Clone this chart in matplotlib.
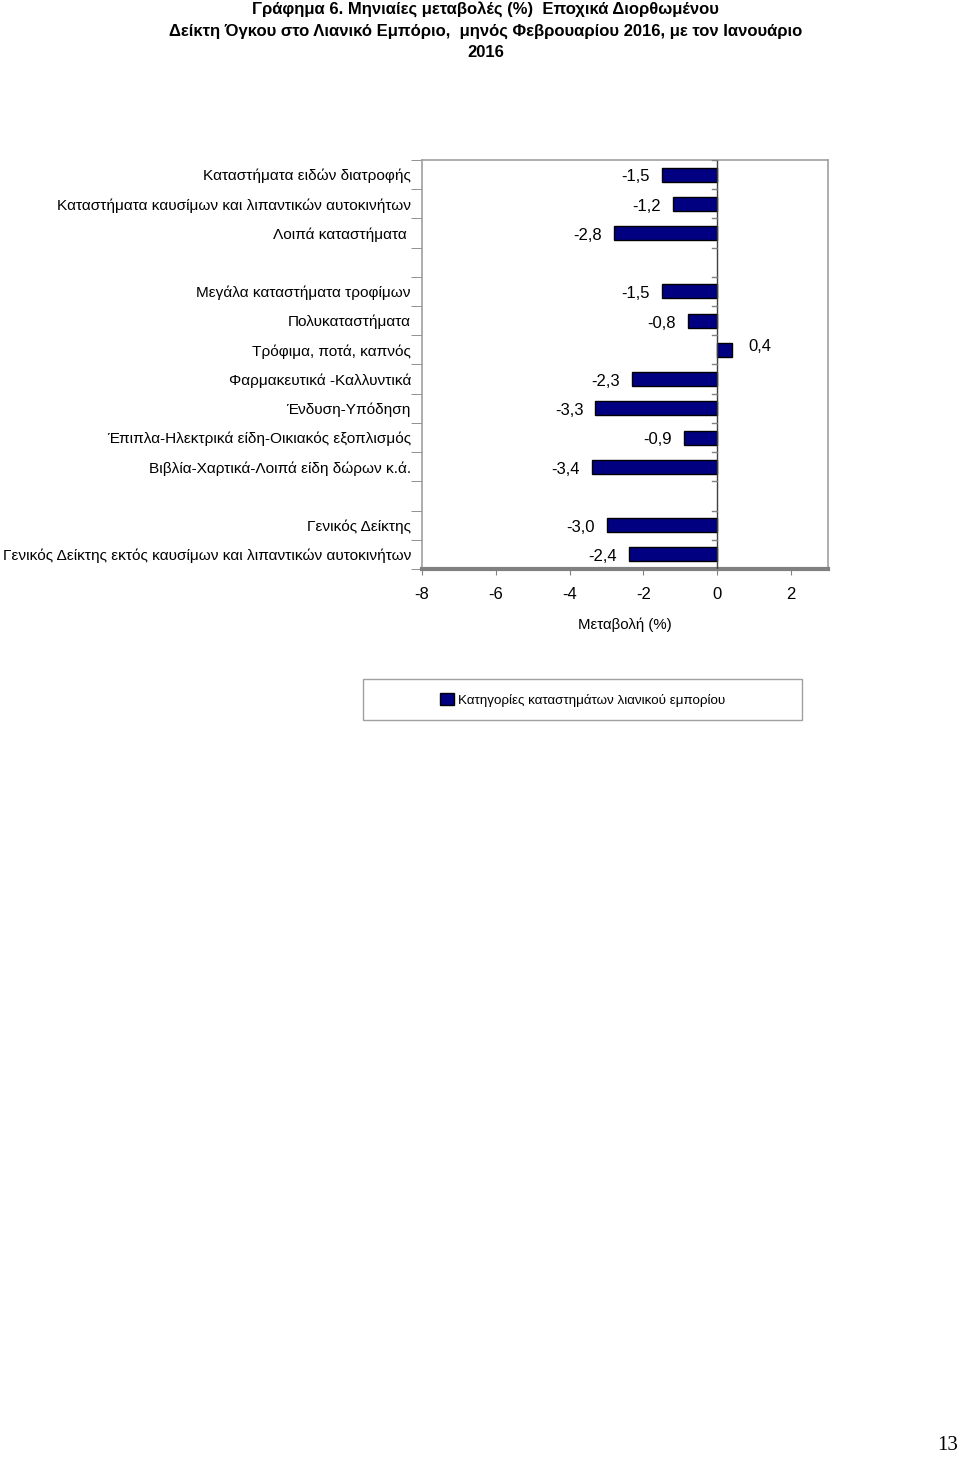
import matplotlib
matplotlib.use('Agg')
import matplotlib.pyplot as plt
from matplotlib.patches import Patch, Rectangle

plt.rcParams['font.family'] = ['Liberation Sans', 'DejaVu Sans']

# three groups of categories, drawn with an empty row between them
group1 = ['Καταστήματα ειδών διατροφής',
          'Καταστήματα καυσίμων και λιπαντικών αυτοκινήτων',
          'Λοιπά καταστήματα ']
values1 = [-1.5, -1.2, -2.8]

group2 = ['Μεγάλα καταστήματα τροφίμων',
          'Πολυκαταστήματα',
          'Τρόφιμα, ποτά, καπνός',
          'Φαρμακευτικά -Καλλυντικά',
          'Ένδυση-Υπόδηση',
          'Έπιπλα-Ηλεκτρικά είδη-Οικιακός εξοπλισμός',
          'Βιβλία-Χαρτικά-Λοιπά είδη δώρων κ.ά.']
values2 = [-1.5, -0.8, 0.4, -2.3, -3.3, -0.9, -3.4]

group3 = ['Γενικός Δείκτης',
          'Γενικός Δείκτης εκτός καυσίμων και λιπαντικών αυτοκινήτων']
values3 = [-3.0, -2.4]

xticks = [-8, -6, -4, -2, 0, 2]

labels = []
values = []
ypos = []
row = 0
for g, v in [(group1, values1), (group2, values2), (group3, values3)]:
    for lab, val in zip(g, v):
        labels.append(lab)
        values.append(val)
        ypos.append(row)
        row += 1
    row += 1  # empty row between groups
nrows = row - 1

fig = plt.figure(figsize=(9.6, 14.58), dpi=100)
ax = fig.add_axes([0.4396, 0.6097, 0.4229, 0.2806])

navy = '#000080'
ax.barh(ypos, values, height=0.48, color=navy, edgecolor='black', linewidth=1.0, zorder=3)

for y, v in zip(ypos, values):
    txt = ('%.1f' % v).replace('.', ',')
    if v < 0:
        ax.text(v - 0.33, y + 0.08, txt, ha='right', va='center', fontsize=12)
    else:
        ax.text(v + 0.45, y - 0.1, txt, ha='left', va='center', fontsize=12)

ax.set_xlim(-8, 3)
ax.set_ylim(nrows - 0.5, -0.5)
ax.set_yticks(ypos)
ax.set_yticklabels(labels, fontsize=11.1)
ax.tick_params(axis='y', which='major', length=0, pad=8)
ax.set_yticks([i - 0.5 for i in range(nrows + 1)], minor=True)
ax.tick_params(axis='y', which='minor', length=8, color='#808080', direction='out')

ax.set_xticks(xticks)
ax.set_xticklabels([str(t) for t in xticks], fontsize=12)
ax.tick_params(axis='x', length=4, color='#808080', pad=9)
ax.set_xlabel('Μεταβολή (%)', fontsize=10.8, labelpad=11)

# category axis at zero with its own little ticks
ax.axvline(0, color='#404040', linewidth=1.0, zorder=4)
for i in range(nrows + 1):
    ax.plot([-0.15, 0], [i - 0.5, i - 0.5], color='#808080', linewidth=1.0, zorder=4)

for s in ax.spines.values():
    s.set_color('#a0a0a0')
    s.set_linewidth(1.2)
ax.spines['bottom'].set_color('#808080')
ax.spines['bottom'].set_linewidth(3)

tfs = 12
fig.text(0.506, 0.999, 'Γράφημα 6. Μηνιαίες μεταβολές (%)  Εποχικά Διορθωμένου',
         ha='center', va='top', fontsize=tfs, fontweight='bold')
fig.text(0.506, 0.984, 'Δείκτη Όγκου στο Λιανικό Εμπόριο,  μηνός Φεβρουαρίου 2016, με τον Ιανουάριο',
         ha='center', va='top', fontsize=tfs, fontweight='bold')
fig.text(0.506, 0.969, '2016', ha='center', va='top', fontsize=tfs, fontweight='bold')

# legend box
fig.patches.append(Rectangle((363 / 960, 1 - 720 / 1458), 439 / 960, 41 / 1458,
                             transform=fig.transFigure, facecolor='white',
                             edgecolor='#a0a0a0', linewidth=1.0))
leg = fig.legend(handles=[Patch(facecolor=navy, edgecolor='black', label='Κατηγορίες καταστημάτων λιανικού εμπορίου')],
                 loc='center', bbox_to_anchor=(0.607, 0.5199), fontsize=9.6, frameon=False,
                 handlelength=1.0, handleheight=1.0, handletextpad=0.3)

fig.text(0.9875, 0.002, '13', ha='center', va='bottom', fontsize=15, family='Liberation Serif')

fig.savefig('out.png', dpi=100)
